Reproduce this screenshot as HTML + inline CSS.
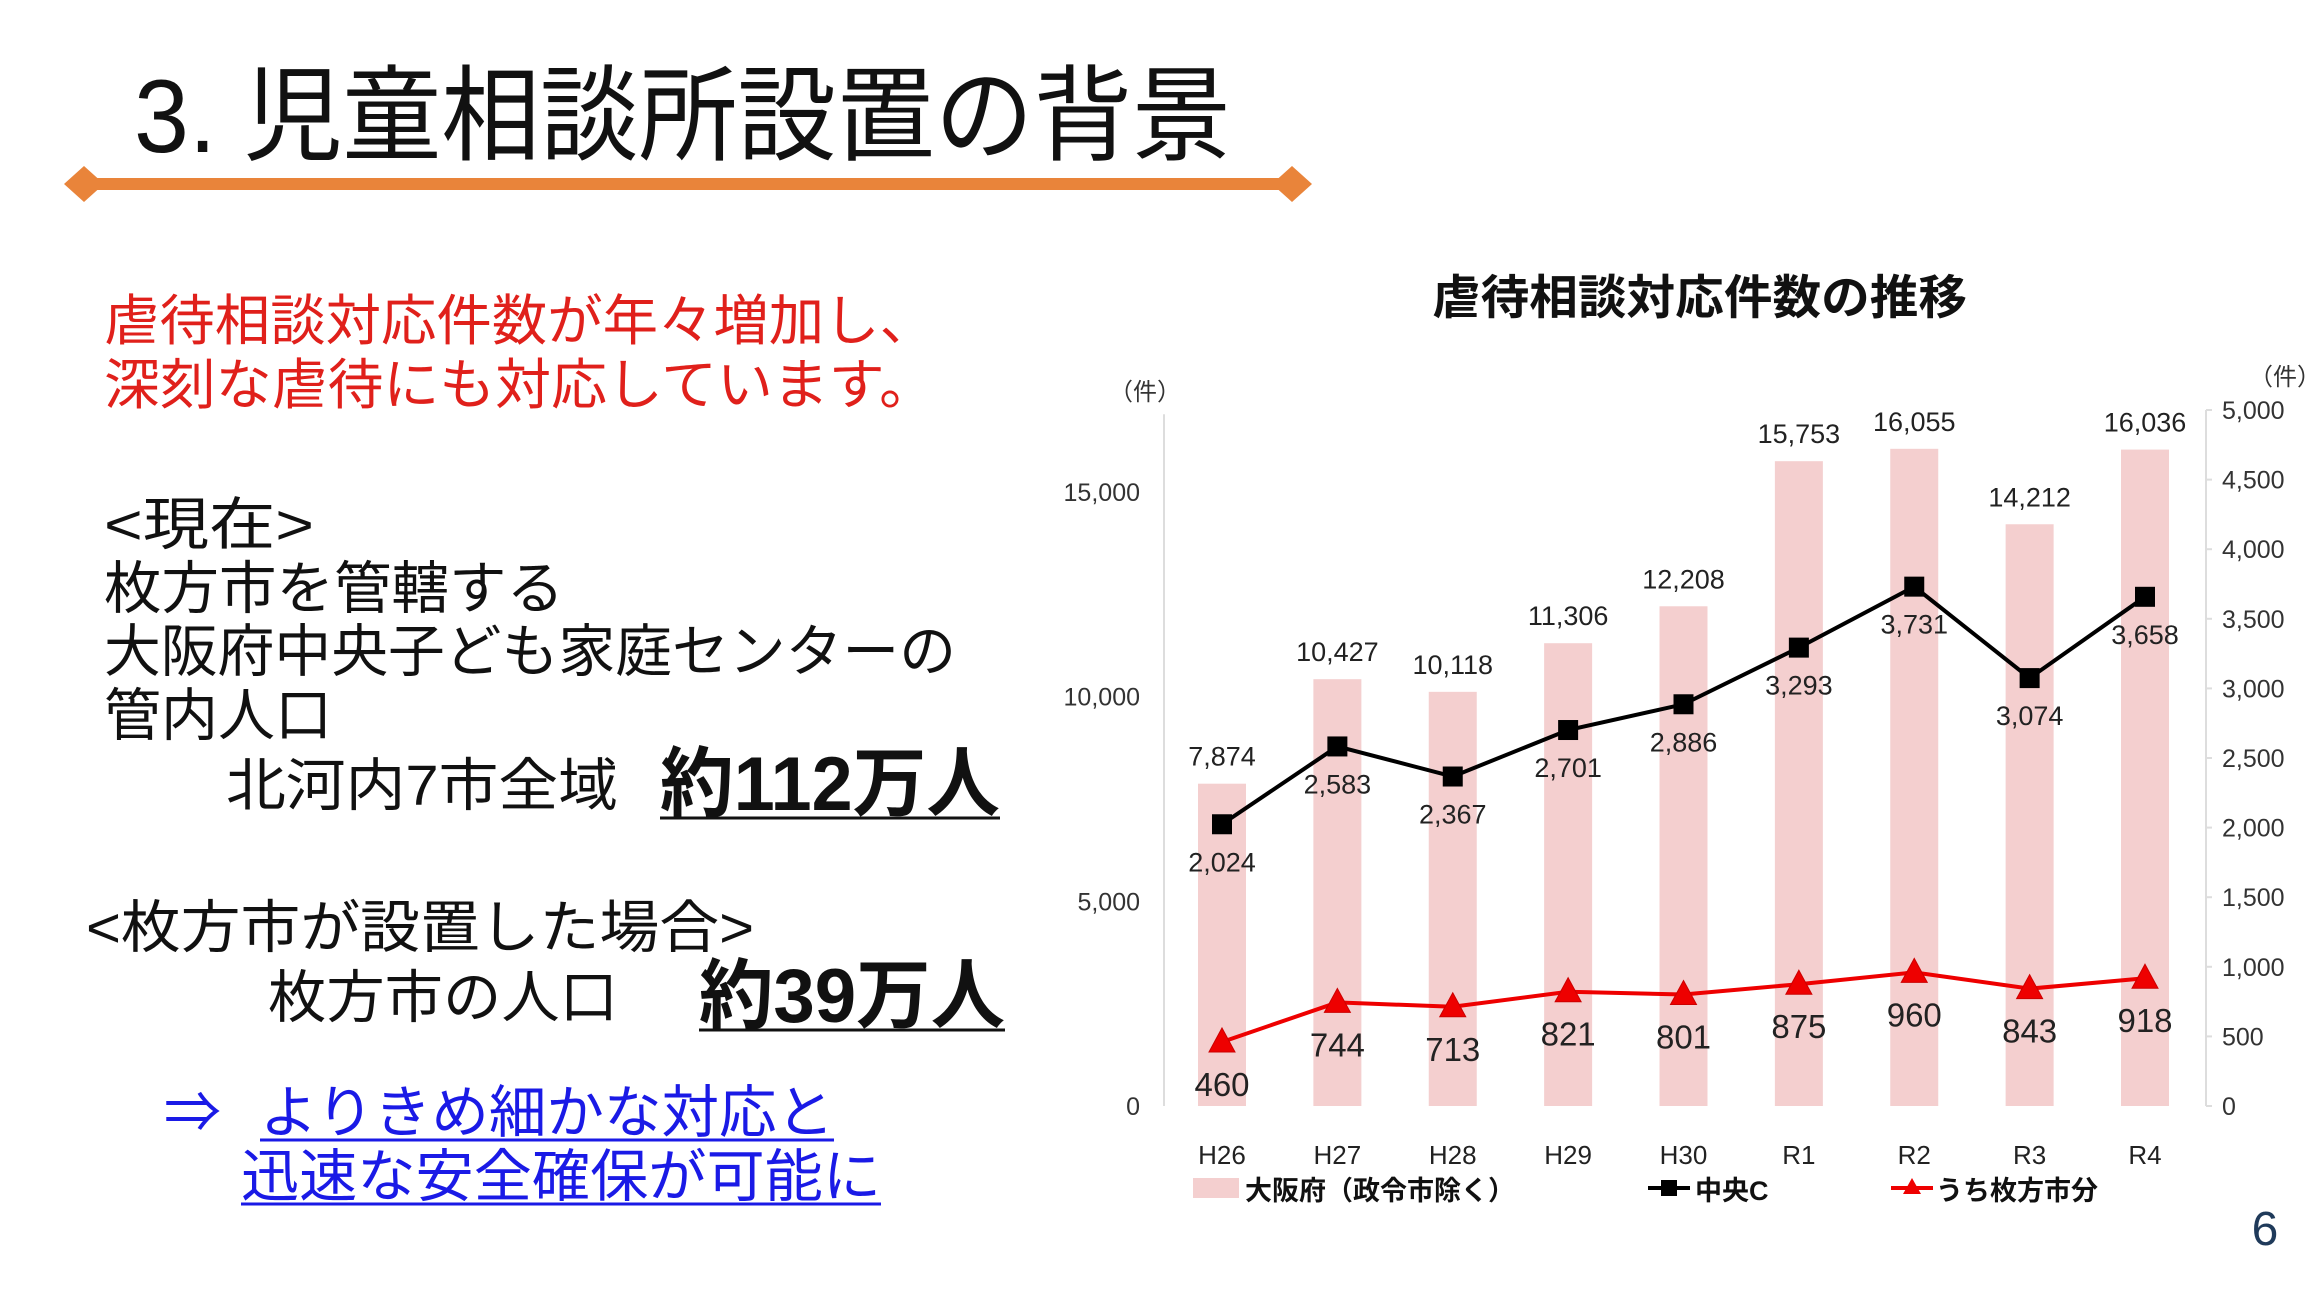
<!DOCTYPE html>
<html><head><meta charset="utf-8"><style>
html,body{margin:0;padding:0;background:#fff;}
svg{display:block;font-family:"Liberation Sans","Noto Sans CJK JP",sans-serif;}
</style></head><body>
<svg id="s" width="2320" height="1303" viewBox="0 0 2320 1303" xmlns="http://www.w3.org/2000/svg">
<g>
<text x="134" y="152" font-size="104" fill="#111" textLength="1097" lengthAdjust="spacingAndGlyphs">3. 児童相談所設置の背景</text>
<rect x="80" y="178" width="1216" height="12" fill="#e9843a"/>
<polygon points="64,184 84,166 104,184 84,202" fill="#e9843a"/>
<polygon points="1272,184 1292,166 1312,184 1292,202" fill="#e9843a"/>
</g>
<g font-size="55">
<text x="104" y="340" fill="#e0201b" textLength="831" lengthAdjust="spacingAndGlyphs">虐待相談対応件数が年々増加し、</text>
<text x="104" y="404" fill="#e0201b" textLength="831" lengthAdjust="spacingAndGlyphs">深刻な虐待にも対応しています。</text>
<g fill="#111" font-size="57">
<text x="104" y="544" textLength="210" lengthAdjust="spacingAndGlyphs">&lt;現在&gt;</text>
<text x="104" y="608" textLength="460" lengthAdjust="spacingAndGlyphs">枚方市を管轄する</text>
<text x="104" y="671" textLength="852" lengthAdjust="spacingAndGlyphs">大阪府中央子ども家庭センターの</text>
<text x="104" y="735" textLength="228" lengthAdjust="spacingAndGlyphs">管内人口</text>
<text x="226" y="805" textLength="392" lengthAdjust="spacingAndGlyphs">北河内7市全域</text>
<text x="660" y="810" font-size="76" font-weight="bold" textLength="340" lengthAdjust="spacingAndGlyphs">約112万人</text>
<line x1="660" y1="818" x2="1000" y2="818" stroke="#111" stroke-width="3"/>
<text x="86" y="947" textLength="668" lengthAdjust="spacingAndGlyphs">&lt;枚方市が設置した場合&gt;</text>
<text x="268" y="1017" textLength="350" lengthAdjust="spacingAndGlyphs">枚方市の人口</text>
<text x="699" y="1022" font-size="76" font-weight="bold" textLength="306" lengthAdjust="spacingAndGlyphs">約39万人</text>
<line x1="699" y1="1030" x2="1005" y2="1030" stroke="#111" stroke-width="3"/>
</g>
<g fill="#1a1ae6" font-size="57">
<text x="164" y="1132">⇒</text>
<text x="260" y="1132" textLength="574" lengthAdjust="spacingAndGlyphs">よりきめ細かな対応と</text>
<line x1="260" y1="1140" x2="834" y2="1140" stroke="#1a1ae6" stroke-width="3"/>
<text x="241" y="1196" textLength="640" lengthAdjust="spacingAndGlyphs">迅速な安全確保が可能に</text>
<line x1="241" y1="1204" x2="881" y2="1204" stroke="#1a1ae6" stroke-width="3"/>
</g>
</g>
<g>
<text x="1432" y="314" font-size="47" font-weight="bold" fill="#111" textLength="535" lengthAdjust="spacingAndGlyphs">虐待相談対応件数の推移</text>
</g>
<text x="1145" y="400" font-size="24" text-anchor="middle" fill="#333">（件）</text>
<text x="2285" y="385" font-size="24" text-anchor="middle" fill="#333">（件）</text>
<g id="chart"></g>
<g>
<rect x="1193" y="1178" width="46" height="20" fill="#f4cfcf"/>
<text x="1245" y="1200" font-size="27" font-weight="bold" fill="#111">大阪府（政令市除く）</text>
<line x1="1648" y1="1188" x2="1690" y2="1188" stroke="#000" stroke-width="4"/>
<rect x="1661" y="1180" width="16" height="16" fill="#000"/>
<text x="1695" y="1200" font-size="27" font-weight="bold" fill="#111">中央C</text>
<line x1="1891" y1="1188" x2="1933" y2="1188" stroke="#e00" stroke-width="4"/>
<polygon points="1912,1178 1921,1194 1903,1194" fill="#e00"/>
<text x="1936" y="1200" font-size="27" font-weight="bold" fill="#111">うち枚方市分</text>
</g>
<text x="2265" y="1245" font-size="48" text-anchor="middle" fill="#1f3a5a">6</text>
</svg>
<script>
const categories = ["H26","H27","H28","H29","H30","R1","R2","R3","R4"];
const osakaValues = [7874,10427,10118,11306,12208,15753,16055,14212,16036];
const chuoValues = [2024,2583,2367,2701,2886,3293,3731,3074,3658];
const hirakataValues = [460,744,713,821,801,875,960,843,918];
const leftTicks = [0,5000,10000,15000];
const rightTicks = [0,500,1000,1500,2000,2500,3000,3500,4000,4500,5000];

const NS="http://www.w3.org/2000/svg";
const g=document.getElementById('chart');
const x0=1222, step=(2145-1222)/8, yBase=1106;
const xPos=i=>x0+i*step;
const yL=v=>yBase-v*(614/15000);
const yR=v=>yBase-v*(696/5000);
function mk(tag,attrs,parent){const e=document.createElementNS(NS,tag);for(const k in attrs)e.setAttribute(k,attrs[k]);(parent||g).appendChild(e);return e;}
function fmt(v){return v.toLocaleString('en-US');}

let e=mk('line',{x1:1164,y1:yL(16900),x2:1164,y2:yBase,stroke:'#ddd','stroke-width':2});


e=mk('line',{x1:2206,y1:yR(5000),x2:2206,y2:yBase,stroke:'#ddd','stroke-width':2});



leftTicks.forEach(t=>{
  const el=mk('text',{x:1140,y:yL(t)+9,'font-size':25,'text-anchor':'end',fill:'#333'});
  el.textContent=fmt(t);
  
  
});
rightTicks.forEach(t=>{
  const el=mk('text',{x:2222,y:yR(t)+9,'font-size':25,fill:'#333'});
  el.textContent=fmt(t);
  
  
  mk('line',{x1:2206,y1:yR(t),x2:2212,y2:yR(t),stroke:'#ddd','stroke-width':2});
});

categories.forEach((c,i)=>{
  const b=mk('rect',{x:xPos(i)-24,y:yL(osakaValues[i]),width:48,height:yBase-yL(osakaValues[i]),fill:'#f4cfcf'});
  
  
  const bl=mk('text',{x:xPos(i),y:yL(osakaValues[i])-18,'font-size':27,'text-anchor':'middle',fill:'#222'});
  bl.textContent=fmt(osakaValues[i]);
  
  
  const cl=mk('text',{x:xPos(i),y:1164,'font-size':26,'text-anchor':'middle',fill:'#222'});
  cl.textContent=c;
  
  
});

const blk=mk('polyline',{points:chuoValues.map((v,i)=>xPos(i)+','+yR(v)).join(' '),fill:'none',stroke:'#000','stroke-width':4});


const red=mk('polyline',{points:hirakataValues.map((v,i)=>xPos(i)+','+yR(v)).join(' '),fill:'none',stroke:'#e00','stroke-width':4});



chuoValues.forEach((v,i)=>{
  const m=mk('rect',{x:xPos(i)-10,y:yR(v)-10,width:20,height:20,fill:'#000'});
  
  
  const t=mk('text',{x:xPos(i),y:yR(v)+47,'font-size':27,'text-anchor':'middle',fill:'#222'});
  t.textContent=fmt(v);
  
  
});
hirakataValues.forEach((v,i)=>{
  const x=xPos(i),y=yR(v);
  const m=mk('polygon',{points:`${x},${y-14} ${x+13},${y+10} ${x-13},${y+10}`,fill:'#e00',stroke:'#c00','stroke-width':1});
  
  
  const t=mk('text',{x:x,y:y+54,'font-size':33,'text-anchor':'middle',fill:'#222'});
  t.textContent=fmt(v);
  
  
});
</script>
</body></html>
